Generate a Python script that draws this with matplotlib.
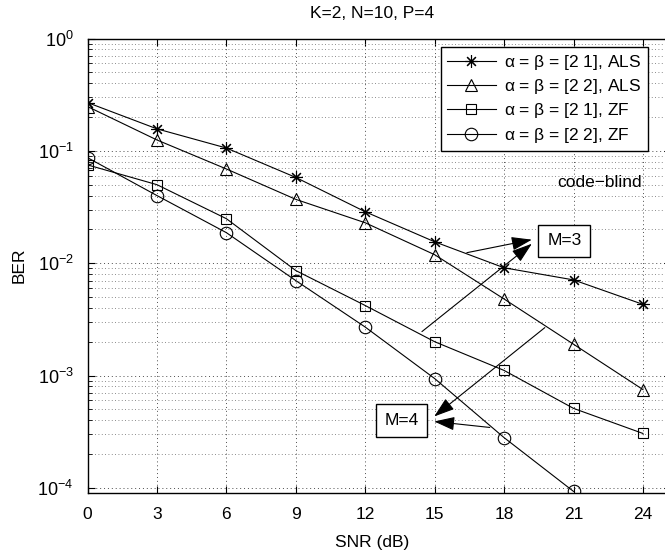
import numpy as np
import matplotlib
matplotlib.use("Agg")
import matplotlib.pyplot as plt
from matplotlib.ticker import LogLocator, NullFormatter

plt.rcParams['font.family'] = ['Liberation Sans', 'DejaVu Sans']
plt.rcParams['mathtext.fontset'] = 'custom'
plt.rcParams['mathtext.rm'] = 'Liberation Sans'
plt.rcParams['mathtext.it'] = 'Liberation Sans'

# SNR axis
snr = [0, 3, 6, 9, 12, 15, 18, 21, 24]

# BER curves
ber_als_21 = [0.269, 0.157, 0.106, 0.058, 0.0287, 0.0155, 0.0091, 0.0071, 0.0043]
ber_als_22 = [0.248, 0.125, 0.069, 0.037, 0.0229, 0.0119, 0.0048, 0.0019, 0.00075]
ber_zf_21 = [0.075, 0.050, 0.0249, 0.0086, 0.0042, 0.0020, 0.00111, 0.00051, 0.000305]
ber_zf_22 = [0.087, 0.040, 0.0187, 0.0070, 0.0027, 0.00094, 0.00028, 0.000093]

labels = [r'$\alpha$ = $\beta$ = [2 1], ALS',
          r'$\alpha$ = $\beta$ = [2 2], ALS',
          r'$\alpha$ = $\beta$ = [2 1], ZF',
          r'$\alpha$ = $\beta$ = [2 2], ZF']

fig = plt.figure(figsize=(6.65, 5.55), dpi=100)
ax = fig.add_axes([0.1316, 0.1117, 0.877, 0.8189])

# matlab style asterisk marker
star = (8, 2, 0)
ax.semilogy(snr, ber_als_21, 'k-', marker=star, ms=9, mew=0.8, lw=0.8, label=labels[0])
ax.semilogy(snr, ber_als_22, 'k-', marker='^', ms=9, mfc='none', mew=0.8, lw=0.8, label=labels[1])
ax.semilogy(snr, ber_zf_21, 'k-', marker='s', ms=7, mfc='none', mew=0.8, lw=0.8, label=labels[2])
ax.semilogy(snr[:len(ber_zf_22)], ber_zf_22, 'k-', marker='o', ms=9, mfc='none', mew=0.8, lw=0.8, label=labels[3])

ax.set_xlim(0, 25.2)
ax.set_ylim(9e-5, 1)
ax.set_xticks(snr)
ax.yaxis.set_major_locator(LogLocator(base=10, numticks=10))
ax.yaxis.set_minor_locator(LogLocator(base=10, subs=np.arange(2, 10), numticks=20))
ax.yaxis.set_minor_formatter(NullFormatter())

ax.grid(True, which='major', linestyle=(0, (1, 3)), color='0.3', lw=0.7)
ax.grid(True, which='minor', axis='y', linestyle=(0, (1, 3)), color='0.4', lw=0.6)
ax.tick_params(which='both', direction='in', top=True, right=True)
ax.tick_params(axis='x', labelsize=12.5, pad=10)
ax.tick_params(axis='y', labelsize=13, pad=10)
ax.tick_params(which='major', length=5)
ax.tick_params(which='minor', length=3)
for s in ax.spines.values():
    s.set_linewidth(1.0)

fig.text(372 / 665, 1 - 13 / 555, 'K=2, N=10, P=4', ha='center', va='center', fontsize=12.5)
fig.text(372 / 665, 1 - 543 / 555, 'SNR (dB)', ha='center', va='center', fontsize=12.5)
fig.text(19 / 665, 1 - 265 / 555, 'BER', ha='center', va='center', rotation=90, fontsize=12.5)

leg = ax.legend(loc='upper left', bbox_to_anchor=(441 / 665, 1 - 47 / 555),
                bbox_transform=fig.transFigure, fancybox=False, framealpha=1,
                edgecolor='k', fontsize=12.5, handlelength=2.8, borderpad=0.35,
                labelspacing=0.3, handletextpad=0.5, borderaxespad=0)
leg.get_frame().set_linewidth(1.0)

ax.text(22.14, 0.052, 'code\u2212blind', ha='center', va='center', fontsize=12.5)

# annotations
box = dict(boxstyle='square,pad=0.5', fc='white', ec='k', lw=1.0)
ax.text(20.6, 0.0158, 'M=3', ha='center', va='center', fontsize=12.5, bbox=box)
ax.text(13.56, 0.000398, 'M=4', ha='center', va='center', fontsize=12.5, bbox=box)

arrow = dict(arrowstyle='-|>,head_length=0.9,head_width=0.3', color='k', lw=0.8,
             mutation_scale=14, shrinkA=0, shrinkB=0)
ax.annotate('', xy=(19.2, 0.0162), xytext=(16.39, 0.0124), arrowprops=arrow)
ax.annotate('', xy=(19.2, 0.0149), xytext=(14.45, 0.00246), arrowprops=arrow)
ax.annotate('', xy=(14.98, 0.000432), xytext=(19.76, 0.00267), arrowprops=arrow)
ax.annotate('', xy=(14.98, 0.00039), xytext=(17.38, 0.000345), arrowprops=arrow)

fig.savefig('out.png', dpi=100)
